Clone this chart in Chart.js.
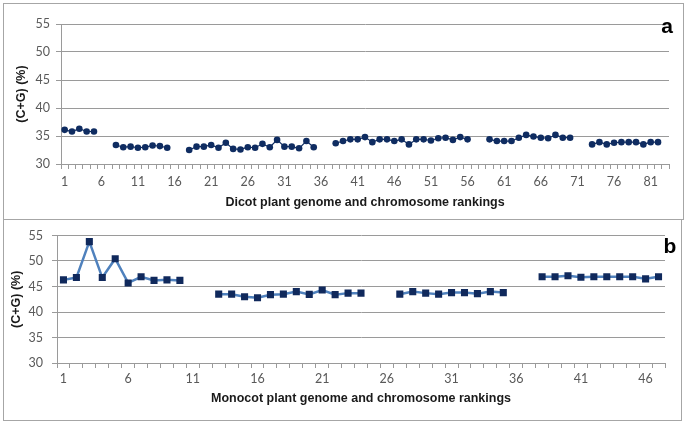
<!DOCTYPE html>
<html>
<head>
<meta charset="utf-8">
<script src="https://cdn.jsdelivr.net/npm/chart.js@4.4.0/dist/chart.umd.min.js"></script>
<style>
  body { margin: 0; background: #fff; }
  #wrap { position: relative; width: 688px; height: 424px; }
  canvas { position: absolute; left: 0; }
  .frame { position: absolute; border: 1px solid #a6a6a6; box-sizing: border-box; }
</style>
</head>
<body>
<div id="wrap">
  <div class="frame" style="left:3px; top:3px; width:681px; height:217px;"></div>
  <div class="frame" style="left:3px; top:219px; width:679px; height:202px;"></div>
  <canvas id="dicotChart" width="688" height="219" style="top:0"></canvas>
  <canvas id="monocotChart" width="688" height="201" style="top:219px"></canvas>
</div>
<script>
// dicot: 83 ranking slots, gaps between genomes
const dicotRanks = Array.from({ length: 83 }, (_, i) => String(i + 1));
const dicotGC = [
    36.1, 35.8, 36.3, 35.8, 35.8, null, null,
    33.4, 33.0, 33.1, 32.9, 33.0, 33.3, 33.2, 32.9, null, null,
    32.5, 33.1, 33.1, 33.4, 32.9, 33.8, 32.7, 32.6, 33.0, 32.9, 33.6, 33.0, 34.3, 33.1, 33.1, 32.8, 34.1, 33.0, null, null,
    33.7, 34.1, 34.4, 34.4, 34.8, 33.9, 34.4, 34.4, 34.1, 34.4, 33.5, 34.4, 34.4, 34.2, 34.6, 34.7, 34.3, 34.8, 34.4, null, null,
    34.4, 34.1, 34.1, 34.1, 34.7, 35.2, 34.9, 34.7, 34.6, 35.2, 34.7, 34.7, null, null,
    33.5, 33.9, 33.5, 33.8, 33.9, 33.9, 33.9, 33.5, 33.9, 33.9
];

// monocot: 47 ranking slots
const monocotRanks = Array.from({ length: 47 }, (_, i) => String(i + 1));
const monocotGC = [
    46.3, 46.75, 53.8, 46.75, 50.45, 45.7, 46.9, 46.2, 46.3, 46.2, null, null,
    43.5, 43.5, 43.0, 42.8, 43.4, 43.5, 44.0, 43.45, 44.3, 43.4, 43.7, 43.7, null, null,
    43.5, 44.0, 43.7, 43.5, 43.8, 43.8, 43.6, 44.0, 43.8, null, null,
    46.9, 46.9, 47.1, 46.8, 46.9, 46.9, 46.9, 46.9, 46.5, 46.9
];

const yTicks = { min: 30, max: 55, step: 5 };
const gridColor = '#9a9a9a';
const tickFont = { family: 'Lato', size: 12.5 };
const titleFont = { family: 'Liberation Sans', size: 12.5, weight: 'bold' };

function panelLetter(text, x, y) {
    return {
        id: 'letter' + text,
        afterDraw(chart) {
            const ctx = chart.ctx;
            ctx.save();
            ctx.font = 'bold 21px "Liberation Sans"';
            ctx.fillStyle = '#000';
            ctx.textAlign = 'center';
            ctx.textBaseline = 'middle';
            ctx.fillText(text, x, y);
            ctx.restore();
        }
    };
}

function makeChart(id, labels, data, opts) {
    const ctx = document.getElementById(id).getContext('2d');
    return new Chart(ctx, {
        type: 'line',
        data: {
            labels: labels,
            datasets: [{
                data: data,
                borderColor: opts.lineColor,
                borderWidth: opts.lineWidth,
                pointStyle: opts.pointStyle,
                pointRadius: opts.pointRadius,
                pointBackgroundColor: opts.pointColor,
                pointBorderColor: opts.pointColor,
                pointBorderWidth: 0,
                tension: 0,
                spanGaps: false
            }]
        },
        options: {
            responsive: false,
            animation: false,
            layout: { padding: opts.padding },
            plugins: {
                legend: { display: false },
                tooltip: { enabled: false }
            },
            scales: {
                x: {
                    offset: true,
                    afterFit: (scale) => { scale.height = opts.xHeight; },
                    grid: {
                        offset: true,
                        drawOnChartArea: false,
                        color: gridColor,
                        tickLength: opts.xTickLen
                    },
                    border: { color: gridColor },
                    ticks: {
                        autoSkip: false,
                        maxRotation: 0,
                        padding: opts.xTickPad,
                        color: '#595959',
                        font: tickFont,
                        callback: (_, index) => (index % 5 === 0 ? labels[index] : '')
                    },
                    title: {
                        display: true,
                        text: opts.xTitle,
                        color: '#1a1a1a',
                        font: titleFont,
                        padding: { top: 0, bottom: opts.xTitlePad }
                    }
                },
                y: {
                    min: yTicks.min,
                    max: yTicks.max,
                    afterFit: (scale) => { scale.width = opts.yWidth; },
                    grid: { color: gridColor, tickLength: 5 },
                    border: { color: gridColor },
                    ticks: {
                        stepSize: yTicks.step,
                        padding: opts.yTickPad,
                        color: '#595959',
                        font: tickFont
                    },
                    title: {
                        display: true,
                        text: '(C+G) (%)',
                        color: '#1a1a1a',
                        font: titleFont,
                        padding: { top: opts.yTitlePad, bottom: 0 }
                    }
                }
            }
        },
        plugins: [panelLetter(opts.letter, opts.letterX, opts.letterY)]
    });
}

makeChart('dicotChart', dicotRanks, dicotGC, {
    lineColor: '#0f2c61',
    lineWidth: 1.2,
    pointStyle: 'circle',
    pointRadius: 3.3,
    pointColor: '#0f2c61',
    padding: { top: 24, right: 19, left: 0, bottom: 0 },
    xHeight: 55,
    xTickLen: 5,
    xTickPad: 5,
    xTitle: 'Dicot plant genome and chromosome rankings',
    xTitlePad: 9,
    yWidth: 61,
    yTickPad: 6,
    yTitlePad: 14,
    letter: 'a',
    letterX: 667,
    letterY: 27
});

makeChart('monocotChart', monocotRanks, monocotGC, {
    lineColor: '#4f81bd',
    lineWidth: 2.5,
    pointStyle: 'rect',
    pointRadius: 5,
    pointColor: '#10295c',
    padding: { top: 9, right: 23, left: 0, bottom: 0 },
    xHeight: 57,
    xTickLen: 5,
    xTickPad: 3,
    xTitle: 'Monocot plant genome and chromosome rankings',
    xTitlePad: 14,
    yWidth: 57,
    yTickPad: 9,
    yTitlePad: 9,
    letter: 'b',
    letterX: 670,
    letterY: 28
});
</script>
</body>
</html>
